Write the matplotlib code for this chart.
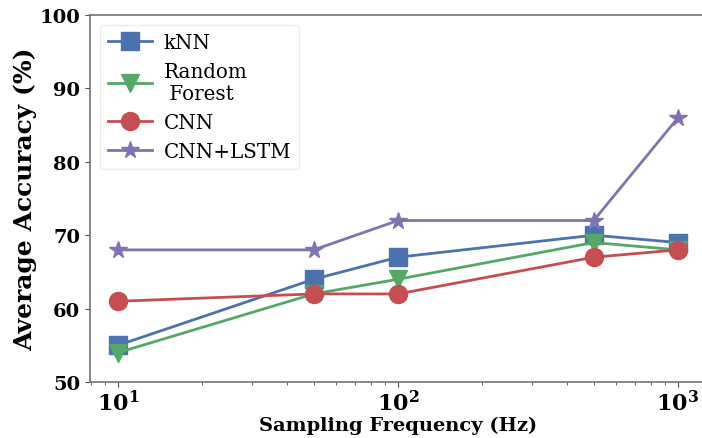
import numpy as np
import matplotlib
matplotlib.use("Agg")
import matplotlib.pyplot as plt

freqs = [10, 50, 100, 500, 1000]
knn = [55, 64, 67, 70, 69]
rf = [54, 62, 64, 69, 68]
cnn = [61, 62, 62, 67, 68]
cnn_lstm = [68, 68, 72, 72, 86]

plt.rcParams['font.family'] = 'DejaVu Serif'

fig = plt.figure(figsize=(7.02, 4.39), dpi=100)
ax = fig.add_axes([90 / 702, 1 - 383 / 439, 616 / 702, 367 / 439])

ax.plot(freqs, knn, "s-", color="#4c72b0", markersize=13, linewidth=2, label="kNN")
ax.plot(freqs, rf, "v-", color="#55a868", markersize=13, linewidth=2, label="Random\n Forest")
ax.plot(freqs, cnn, "o-", color="#c44e52", markersize=13, linewidth=2, label="CNN")
ax.plot(freqs, cnn_lstm, "*-", color="#8172b2", markersize=13, linewidth=2, label="CNN+LSTM")

ax.set_xscale("log")
ax.set_ylim(50, 100)
ax.set_yticks([50, 60, 70, 80, 90, 100])
ax.set_xlabel("Sampling Frequency (Hz)", fontsize=14, fontweight="bold", labelpad=1)
ax.set_ylabel("Average Accuracy (%)", fontsize=18, fontweight="bold", labelpad=2)
for lab in ax.get_xticklabels() + ax.get_yticklabels():
    lab.set_fontweight("bold")
ax.tick_params(axis="y", labelsize=14, colors="black")
ax.tick_params(axis="x", labelsize=16, colors="black", pad=2)
ax.tick_params(which="both", color="0.3")
for s in ax.spines.values():
    s.set_color("0.45")
    s.set_linewidth(1.2)
ax.spines["right"].set_visible(False)

leg = ax.legend(loc="upper left", fontsize=14.3, frameon=True, fancybox=True, framealpha=0.8,
                handlelength=2.2, labelspacing=0.5, borderpad=0.4, handletextpad=0.6)
leg.get_frame().set_edgecolor("0.9")

fig.savefig("out.png", dpi=100)
